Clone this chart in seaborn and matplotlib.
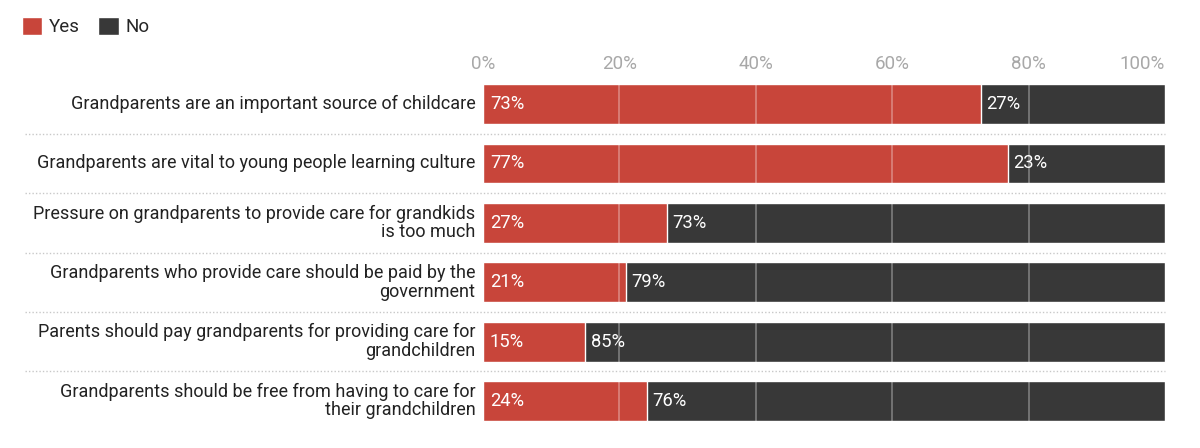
import pandas as pd
import seaborn as sns
import matplotlib.pyplot as plt
from matplotlib.patches import Patch

statements = [
    "Grandparents are an important source of childcare",
    "Grandparents are vital to young people learning culture",
    "Pressure on grandparents to provide care for grandkids\nis too much",
    "Grandparents who provide care should be paid by the\ngovernment",
    "Parents should pay grandparents for providing care for\ngrandchildren",
    "Grandparents should be free from having to care for\ntheir grandchildren",
]
yes = [73, 77, 27, 21, 15, 24]
no = [27, 23, 73, 79, 85, 76]

RED = '#c8453a'
DARK = '#383838'

df = pd.DataFrame({'statement': statements, 'yes': yes, 'no': no})
df['total'] = df['yes'] + df['no']

sns.set_style('white')
plt.rcParams['font.family'] = ['Roboto', 'DejaVu Sans']

fig = plt.figure(figsize=(12, 4.48), dpi=100)
ax = fig.add_axes([0.4025, 0.0386, 0.5683, 0.7955])

sns.barplot(data=df, x='total', y='statement', color=DARK, width=0.67,
            saturation=1, ax=ax, orient='h')
sns.barplot(data=df, x='yes', y='statement', color=RED, width=0.67,
            saturation=1, ax=ax, orient='h')

ax.set_xlim(0, 100)
ax.set_ylim(len(df) - 0.5, -0.5)
ax.set_xlabel('')
ax.set_ylabel('')
for s in ax.spines.values():
    s.set_visible(False)

# gridlines drawn over bars
for g in [20, 40, 60, 80]:
    ax.axvline(g, color='white', alpha=0.35, lw=1.2, zorder=5)

ax.xaxis.tick_top()
ax.set_xticks([0, 20, 40, 60, 80, 100])
ax.set_xticklabels([f'{t}%' for t in [0, 20, 40, 60, 80, 100]])
ax.tick_params(axis='x', length=0, pad=1, labelsize=13.5, labelcolor='#a8a8a8')
ax.get_xticklabels()[-1].set_horizontalalignment('right')
ax.tick_params(axis='y', length=0, pad=5.5, labelsize=13.0, labelcolor='#222222')
for lab in ax.get_yticklabels():
    lab.set_horizontalalignment('right')
    lab.set_verticalalignment('center')
    lab.set_multialignment('right')
    lab.set_linespacing(1.05)

# value labels
for i, (y_, n_) in enumerate(zip(yes, no)):
    ax.text(1, i, f'{y_}%', color='white', va='center', ha='left',
            fontsize=13.2, zorder=6)
    ax.text(y_ + 0.8, i, f'{n_}%', color='white', va='center', ha='left',
            fontsize=13.2, zorder=6)

# dotted row separators
for i in range(len(df) - 1):
    ax.plot([-0.672, 1], [i + 0.5, i + 0.5], transform=ax.get_yaxis_transform(),
            color='#c8c8c8', lw=1, ls=(0, (1, 1.5)), clip_on=False)

handles = [Patch(facecolor=RED, label='Yes'), Patch(facecolor=DARK, label='No')]
fig.legend(handles=handles, loc='upper left', bbox_to_anchor=(0.004, 1.0),
           ncol=2, frameon=False, fontsize=13.5, handlelength=1.1,
           handleheight=1.1, handletextpad=0.35, columnspacing=1.0)

fig.savefig('out.png', dpi=100)
